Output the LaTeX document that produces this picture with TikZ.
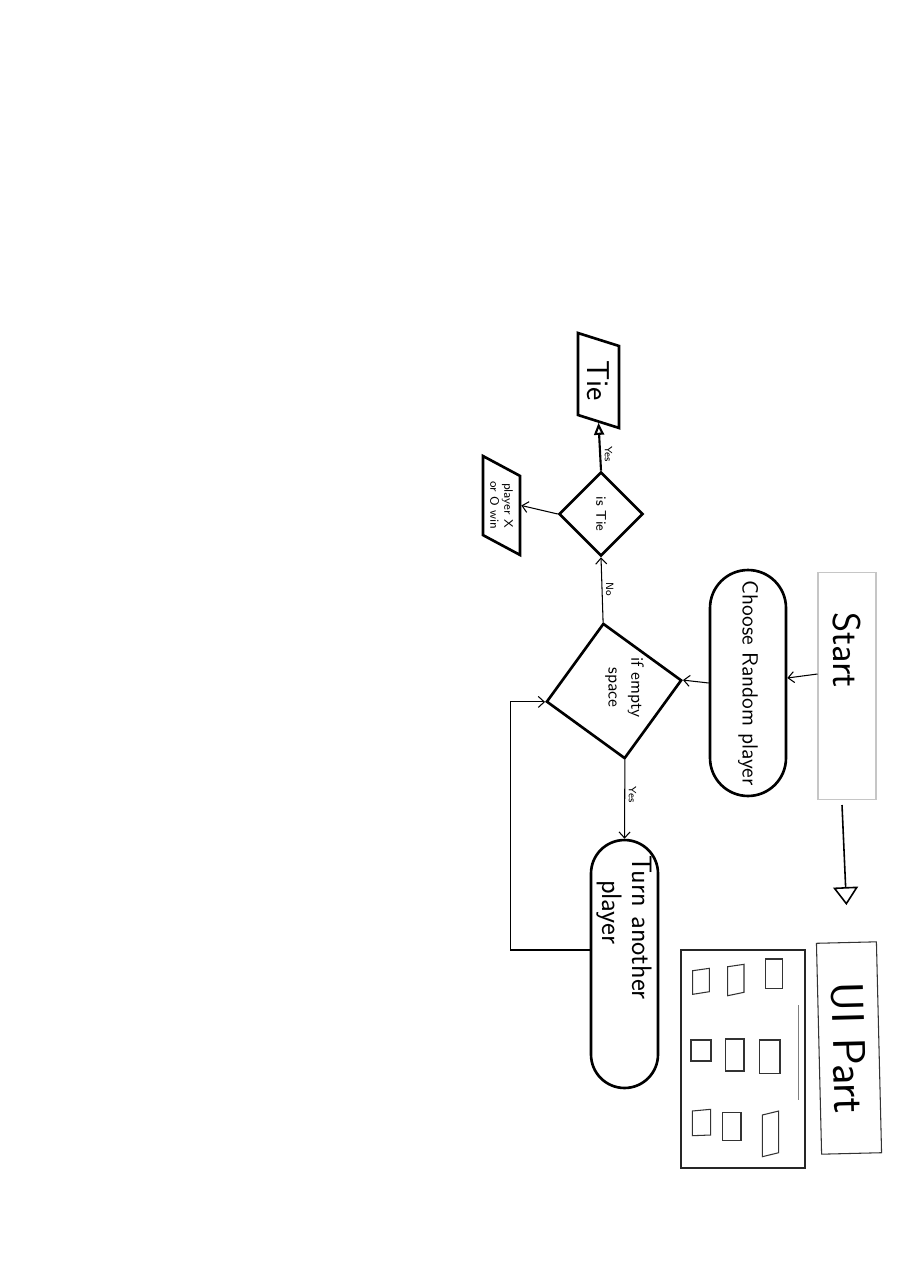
\documentclass[tikz,border=0pt]{standalone}
\usetikzlibrary{shapes.geometric,arrows.meta}
\begin{document}
\begin{tikzpicture}[x=0.02cm, y=-0.02cm, font=\sffamily,
  term/.style={draw, line width=1.5pt, shape=rectangle, rotate=-90, align=center, inner sep=0pt},
  choice/.style={draw, line width=1.5pt, shape=diamond, aspect=1, inner sep=0pt, align=center},
  io/.style={draw, line width=1.5pt, shape=trapezium, trapezium stretches=true, rotate=-90, inner sep=0pt, align=center},
  arr/.style={-{Straight Barb[length=1.2mm, width=2.2mm]}, line width=0.6pt},
  lbl/.style={rotate=-90, font=\sffamily\fontsize{6}{7}\selectfont, inner sep=2pt}]

\useasboundingbox[fill=white] (0,0) rectangle (905,1280);

% flow
\node[draw=gray!45, line width=0.6pt, shape=rectangle, rotate=-90, minimum width=4.54cm, minimum height=1.16cm,
      inner xsep=0.8cm, text width=2.94cm, align=left, font=\sffamily\fontsize{22}{26}\selectfont] (start) at (847,686) {Start};
\node[term, rounded corners=0.76cm, minimum width=4.52cm, minimum height=1.52cm,
      font=\sffamily\fontsize{12.5}{15}\selectfont] (choose) at (748,683) {Choose Random player};
\node[choice, rotate=-81, minimum size=2.74cm,
      label={[rotate=-90, align=center, font=\sffamily\fontsize{10}{13}\selectfont, xshift=-0.07cm, yshift=0.21cm]center:{if empty\\space}}] (empty) at (614,691) {};
\node[choice, rotate=-90, minimum size=1.68cm, font=\sffamily\fontsize{8}{9}\selectfont] (istie) at (601,514) {is Tie};
\node[io, minimum width=1.9cm, minimum height=0.82cm, trapezium left angle=71, trapezium right angle=109,
      font=\sffamily\fontsize{18}{20}\selectfont] (tie) at (598.5,380.5) {Tie};
\node[io, minimum width=1.98cm, minimum height=0.74cm, trapezium left angle=55, trapezium right angle=125,
      font=\sffamily\fontsize{7}{8}\selectfont] (win) at (501.5,505.5) {player X\\or O win};
\node[term, rounded corners=0.67cm, minimum width=4.96cm, minimum height=1.34cm, inner xsep=0.3cm, text width=4.36cm,
      align=left, font=\sffamily\fontsize{16}{17}\selectfont] (turn) at (624.5,964) {Turn another\\\hspace*{0.5cm}player};

% ui part
\node[draw=black!80, line width=0.6pt, rotate=-88.6, minimum width=4.22cm, minimum height=1.2cm,
      font=\sffamily\fontsize{26}{30}\selectfont] (ui) at (849,1048) {UI Part};
\node[draw=black!85, line width=0.7pt, minimum width=2.48cm, minimum height=4.36cm] (board) at (743,1059) {};
\foreach \xl/\ylt/\ylb/\xr/\yrt/\yrb in {692.7/970.7/994.3/709.3/968.3/991.7, 727.7/966.7/995.7/744/964.3/992.3,
    765.7/959/988.3/782.7/959/988.3, 691/1040/1061/711/1040/1061, 725.3/1039/1071/744/1039/1071,
    759.7/1040/1073.3/780/1040/1073.3, 692.3/1111/1135.7/710.7/1109.3/1135, 722.3/1112.3/1140.7/741/1112.3/1140.7,
    762.3/1115/1156.7/778.7/1111/1152.7}
  \draw[black!80, line width=0.6pt] (\xl,\ylt) -- (\xr,\yrt) -- (\xr,\yrb) -- (\xl,\ylb) -- cycle;
\draw[gray, line width=0.5pt] (798,1005) -- (798,1100);

% connectors
\draw[arr] ([yshift=0.24cm]start.south) -- ([yshift=0.1cm]choose.north);
\draw[arr] (choose.south) -- (empty.north);
\draw[arr] (empty.west) -- node[lbl, pos=0.5, anchor=south] {No} (istie.east);
\draw[line width=1.2pt, -{Triangle[open, length=2.4mm, width=2mm]}] (istie.west) -- node[lbl, pos=0.35, anchor=south] {Yes} (tie.east);
\draw[arr] (istie.south) -- (win.north);
\draw[arr] (empty.east) -- node[lbl, pos=0.44, anchor=south] {Yes} (turn.west);
\draw[arr] ([yshift=0.28cm]turn.south) -- ++(-79,0) |- (empty.south);
\draw[line width=0.9pt, -{Triangle[open, length=3.6mm, width=5mm]}] ([xshift=-0.1cm, yshift=-0.1cm]start.east) -- ([yshift=0.74cm]ui.west);
\end{tikzpicture}
\end{document}
